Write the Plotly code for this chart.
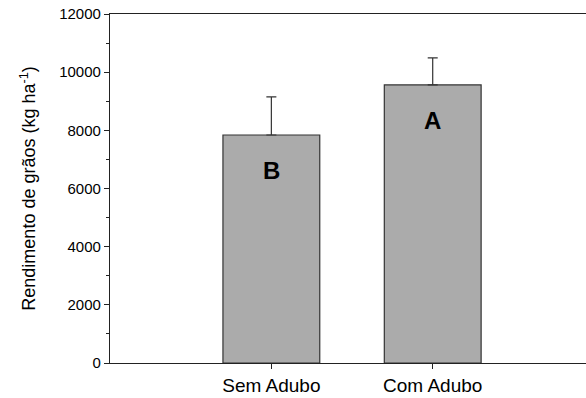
import plotly.graph_objects as go

categories = ["Sem Adubo", "Com Adubo"]
yield_values = [7840, 9560]
error_plus = [1310, 930]
letters = ["B", "A"]
y_ticks = [0, 2000, 4000, 6000, 8000, 10000, 12000]
y_tick_labels = ["0", "2000", "4000", "6000", "8000", "10000", "12000"]

fig = go.Figure()
fig.add_trace(go.Bar(
    x=categories, y=yield_values, width=0.6,
    marker=dict(color="#ababab", line=dict(color="#333333", width=1.2)),
    error_y=dict(type="data", symmetric=False, array=error_plus, arrayminus=[0, 0],
                 color="#333333", thickness=1.2, width=5),
    showlegend=False,
))

for c, v, t in zip(categories, yield_values, letters):
    fig.add_annotation(x=c, y=v, text="<b>%s</b>" % t, showarrow=False,
                       yanchor="middle", yshift=-36,
                       font=dict(family="Liberation Sans, Arial", size=24, color="black"))

fig.update_layout(
    width=586, height=398,
    margin=dict(l=110, r=0, t=14, b=35),
    paper_bgcolor="white", plot_bgcolor="white",
    font=dict(family="Liberation Sans, Arial", color="black"),
    bargap=0.4,
)
fig.update_xaxes(
    range=[-1, 1.95], showline=True, mirror=True, linecolor="#222222", linewidth=1.2,
    ticks="outside", ticklen=5, tickcolor="#222222", tickfont=dict(size=19),
    showgrid=False, zeroline=False,
)
fig.update_yaxes(
    range=[0, 12000], tickvals=y_ticks, ticktext=y_tick_labels,
    showline=True, linecolor="#222222", linewidth=1.2,
    ticks="outside", ticklen=5, tickcolor="#222222", tickfont=dict(size=15),
    minor=dict(dtick=1000, ticks="outside", ticklen=3, tickcolor="#222222"),
    showgrid=False, zeroline=False,
    title=dict(text="Rendimento de grãos (kg ha<sup>-1</sup>)", font=dict(size=18), standoff=18),
)
fig.write_html("out.html", config={"displayModeBar": False},
               post_script="document.body.style.margin='0';")
